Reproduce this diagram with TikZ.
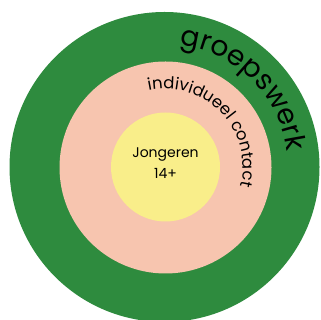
\documentclass[tikz,border=0pt]{standalone}
\usepackage{fontspec}
\setmainfont{Poppins}
\usetikzlibrary{decorations.text}
\definecolor{ringgreen}{RGB}{46,139,62}
\definecolor{ringpink}{RGB}{247,197,175}
\definecolor{ringyellow}{RGB}{249,238,138}
\tikzset{
  disc/.style={circle, draw=none, inner sep=0pt, minimum size=#1},
}
\begin{document}
\begin{tikzpicture}[x=1pt,y=1pt]
\useasboundingbox (0,0) rectangle (320,320);
\begin{scope}
\clip (0,0) rectangle (320,320);
\node[disc=310pt, fill=ringgreen] (outer) at (164.5,153) {};
\end{scope}
\node[disc=212pt, fill=ringpink] (middle) at (165.5,152.5) {};
\node[disc=109pt, fill=ringyellow] (inner) at (165.5,153) {};
\node[align=center, font=\fontsize{14}{21}\selectfont] (label) at (165.5,157) {Jongeren\\14+};
\coordinate (c) at (165,153);
\path[decorate, decoration={text along path, text align=center,
  text={|\fontsize{28}{28}\selectfont|groepswerk}}]
  (c) ++(90:123) arc[start angle=90, end angle=0, radius=123];
\path[decorate, decoration={text along path, text align=center,
  text={|\fontsize{16.5}{17}\selectfont|individueel contact}}]
  (c) ++(103:78) arc[start angle=103, end angle=-15, radius=78];
\end{tikzpicture}
\end{document}
